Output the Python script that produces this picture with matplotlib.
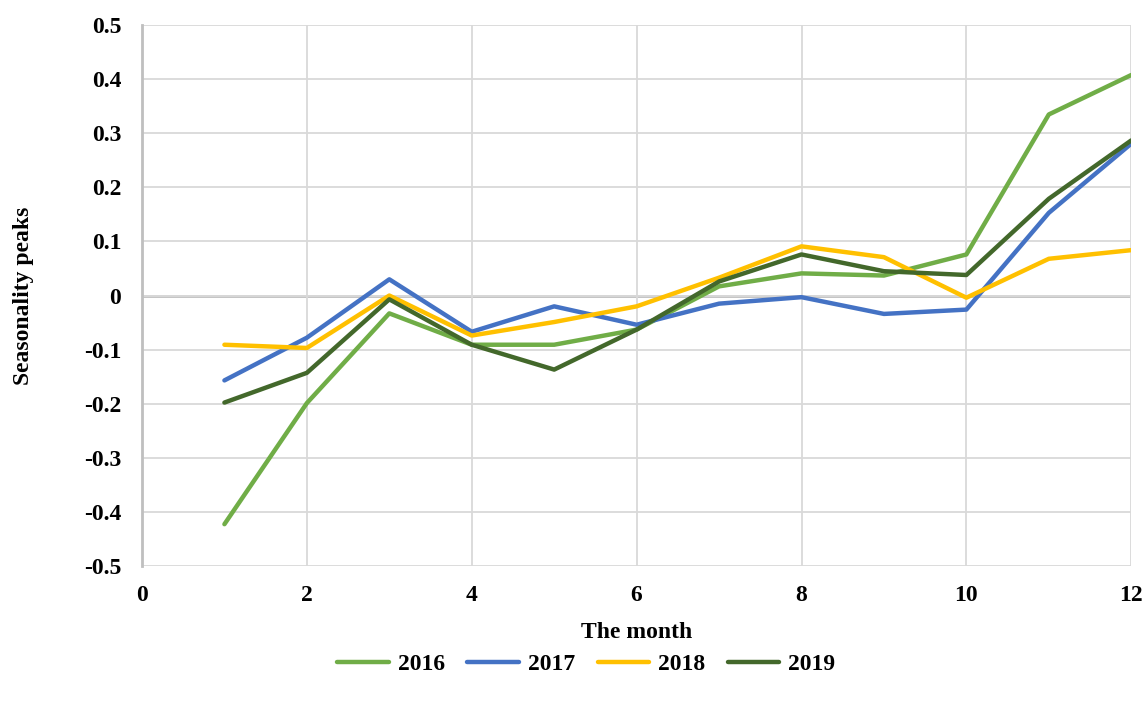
import matplotlib.pyplot as plt

months = [1, 2, 3, 4, 5, 6, 7, 8, 9, 10, 11, 12]
y2016 = [-0.423, -0.199, -0.033, -0.091, -0.091, -0.063, 0.017, 0.041, 0.037, 0.076, 0.335, 0.408]
y2017 = [-0.157, -0.078, 0.030, -0.067, -0.020, -0.054, -0.015, -0.003, -0.034, -0.026, 0.153, 0.281]
y2018 = [-0.091, -0.097, 0.000, -0.074, -0.049, -0.020, 0.033, 0.091, 0.071, -0.004, 0.068, 0.084]
y2019 = [-0.198, -0.143, -0.007, -0.091, -0.137, -0.063, 0.026, 0.076, 0.045, 0.038, 0.179, 0.287]

series = [('2016', y2016, '#70AD47'),
          ('2017', y2017, '#4472C4'),
          ('2018', y2018, '#FFC000'),
          ('2019', y2019, '#43682B')]

plt.rcParams['font.family'] = ['Liberation Serif', 'DejaVu Serif']
plt.rcParams['font.weight'] = 'bold'

fig = plt.figure(figsize=(11.45, 7.02), dpi=100)
ax = fig.add_axes([0.124, 0.194, 0.864, 0.770])

for name, vals, col in series:
    ax.plot(months, vals, color=col, lw=3.2, label=name, solid_capstyle='round', zorder=3)

ax.set_xlim(0, 12)
ax.set_ylim(-0.5, 0.5)
ax.set_xticks(range(0, 13, 2))
ax.set_yticks([-0.5, -0.4, -0.3, -0.2, -0.1, 0, 0.1, 0.2, 0.3, 0.4, 0.5])
ax.set_yticklabels(['-0.5', '-0.4', '-0.3', '-0.2', '-0.1', '0', '0.1', '0.2', '0.3', '0.4', '0.5'])
ax.grid(True, color='#D9D9D9', lw=1.3, zorder=0)
ax.axhline(0, color='#BFBFBF', lw=2, zorder=1)
for s in ['top', 'right', 'bottom']:
    ax.spines[s].set_visible(False)
ax.spines['left'].set_color('#BFBFBF')
ax.spines['left'].set_linewidth(2)
ax.tick_params(axis='y', length=0, labelsize=17, pad=15)
ax.tick_params(axis='x', length=0, labelsize=17, pad=14)
for lab in ax.get_xticklabels() + ax.get_yticklabels():
    lab.set_fontweight('bold')

ax.set_xlabel('The month', fontsize=17, fontweight='bold', labelpad=11)
ax.set_ylabel('Seasonality peaks', fontsize=17, fontweight='bold', labelpad=36)

leg = fig.legend(loc='center', bbox_to_anchor=(0.512, 0.054), ncol=4, frameon=False,
                 fontsize=17, handlelength=2.2, columnspacing=0.95, handletextpad=0.36)
for t in leg.get_texts():
    t.set_fontweight('bold')

fig.savefig('out.png', dpi=100)
